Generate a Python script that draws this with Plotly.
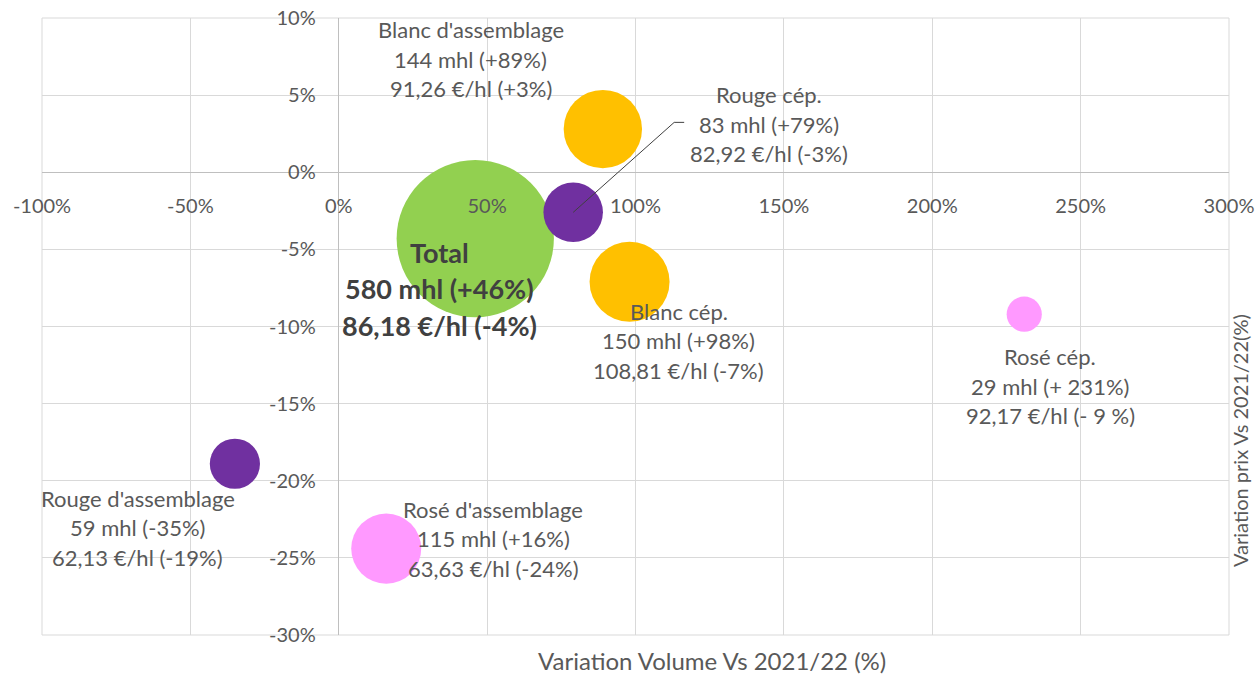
import plotly.graph_objects as go

# ---------------- data ----------------
categories = ["Total", "Blanc d'assemblage", "Blanc cép.", "Rouge cép.",
              "Rouge d'assemblage", "Rosé d'assemblage", "Rosé cép."]
volume_mhl = [580, 144, 150, 83, 59, 115, 29]
volume_var = [46, 89, 98, 79, -35, 16, 231]            # x, %
price_var = [-4.3, 2.8, -7.1, -2.6, -18.9, -24.4, -9.2]  # y, %
price_eur = ["86,18", "91,26", "108,81", "82,92", "62,13", "63,63", "92,17"]
volume_var_label = ["+46%", "+89%", "+98%", "+79%", "-35%", "+16%", "+ 231%"]
price_var_label = ["-4%", "+3%", "-7%", "-3%", "-19%", "-24%", "- 9 %"]
x_ticks = [-100, -50, 0, 50, 100, 150, 200, 250, 300]
y_ticks = [10, 5, 0, -5, -10, -15, -20, -25, -30]

# ---------------- style ----------------
FONT = "Lato"
GREY = "#595959"
colors = ["#92D050", "#FFC000", "#FFC000", "#7030A0", "#7030A0", "#FF99FF", "#FF99FF"]
# label block centre offsets (px, down positive) and line spacing
label_offsets = [(-36, 50, 36.5), (-132, -70, 29.5), (49, 59, 29.5), (196, -88, 29.5),
                 (-97, 64, 29.5), (107, -10, 29.5), (26, 72, 29.5)]
PX_PER_SQRT = 6.53
sizeref = 2.0 / PX_PER_SQRT ** 2

W, H = 1257, 674
ML, MR, MT, MB = 42, 28, 18, 39
plot_w = W - ML - MR
plot_h = H - MT - MB

fig = go.Figure()
fig.add_trace(go.Scatter(
    x=volume_var, y=price_var, mode="markers",
    marker=dict(size=volume_mhl, sizemode="area", sizeref=sizeref,
                color=colors, opacity=1, line=dict(width=0)),
    hoverinfo="skip", showlegend=False,
))

annotations = []
for i, cat in enumerate(categories):
    dx, dy, sp = label_offsets[i]
    lines = [cat, f"{volume_mhl[i]} mhl ({volume_var_label[i]})",
             f"{price_eur[i]} €/hl ({price_var_label[i]})"]
    bold = (i == 0)
    for k, t in enumerate(lines):
        annotations.append(dict(
            x=volume_var[i], y=price_var[i], xref="x", yref="y",
            text=f"<b>{t}</b>" if bold else t, showarrow=False,
            xanchor="center", yanchor="middle",
            xshift=dx, yshift=-(dy + (k - 1) * sp),
            font=dict(family=FONT, size=27 if bold else 22,
                      color="#404040" if bold else GREY),
        ))

# axis titles
annotations.append(dict(
    x=(712 - ML) / plot_w, y=-(660 - (H - MB)) / plot_h, xref="paper", yref="paper",
    text="Variation Volume Vs 2021/22 (%)", showarrow=False,
    xanchor="center", yanchor="middle",
    font=dict(family=FONT, size=24, color=GREY)))
annotations.append(dict(
    x=(1240 - ML) / plot_w, y=((H - MB) - 440) / plot_h, xref="paper", yref="paper",
    text="Variation prix Vs 2021/22(%)", showarrow=False, textangle=-90,
    xanchor="center", yanchor="middle",
    font=dict(family=FONT, size=20, color=GREY)))

# leader line for Rouge cép.
ri = categories.index("Rouge cép.")
shapes = [
    dict(type="rect", xref="paper", yref="paper", x0=0, y0=0, x1=1, y1=1,
         line=dict(color="#D9D9D9", width=1), layer="below"),
    dict(type="line", xref="x", yref="y", xsizemode="pixel", ysizemode="pixel",
         xanchor=volume_var[ri], yanchor=price_var[ri],
         x0=0, y0=0, x1=101, y1=90, line=dict(color="#404040", width=1)),
    dict(type="line", xref="x", yref="y", xsizemode="pixel", ysizemode="pixel",
         xanchor=volume_var[ri], yanchor=price_var[ri],
         x0=101, y0=90, x1=111, y1=90, line=dict(color="#404040", width=1)),
]

xr = [x_ticks[0], x_ticks[-1]]
yr = [y_ticks[-1], y_ticks[0]]

fig.update_layout(
    width=W, height=H,
    margin=dict(l=ML, r=MR, t=MT, b=MB, autoexpand=False),
    paper_bgcolor="white", plot_bgcolor="white",
    font=dict(family=FONT, color=GREY),
    annotations=annotations, shapes=shapes,
    xaxis=dict(range=xr, tickvals=x_ticks, ticktext=[f"{v}%" for v in x_ticks],
               showgrid=True, gridcolor="#D9D9D9", gridwidth=1,
               zeroline=True, zerolinecolor="#BFBFBF", zerolinewidth=1,
               showline=False, ticks="", anchor="free", automargin=False,
               position=(0 - yr[0]) / (yr[1] - yr[0]),
               ticklabelstandoff=20,
               tickfont=dict(family=FONT, size=20, color=GREY)),
    yaxis=dict(range=yr, tickvals=y_ticks, ticktext=[f"{v}%" for v in y_ticks],
               showgrid=True, gridcolor="#D9D9D9", gridwidth=1,
               zeroline=True, zerolinecolor="#BFBFBF", zerolinewidth=1,
               showline=False, ticks="", anchor="free", automargin=False,
               position=(0 - xr[0]) / (xr[1] - xr[0]),
               ticklabelstandoff=23,
               tickfont=dict(family=FONT, size=20, color=GREY)),
)

fig.write_html("out.html", config={"displayModeBar": False},
               post_script="document.body.style.margin='0';"
                           "document.body.style.overflow='hidden';")
